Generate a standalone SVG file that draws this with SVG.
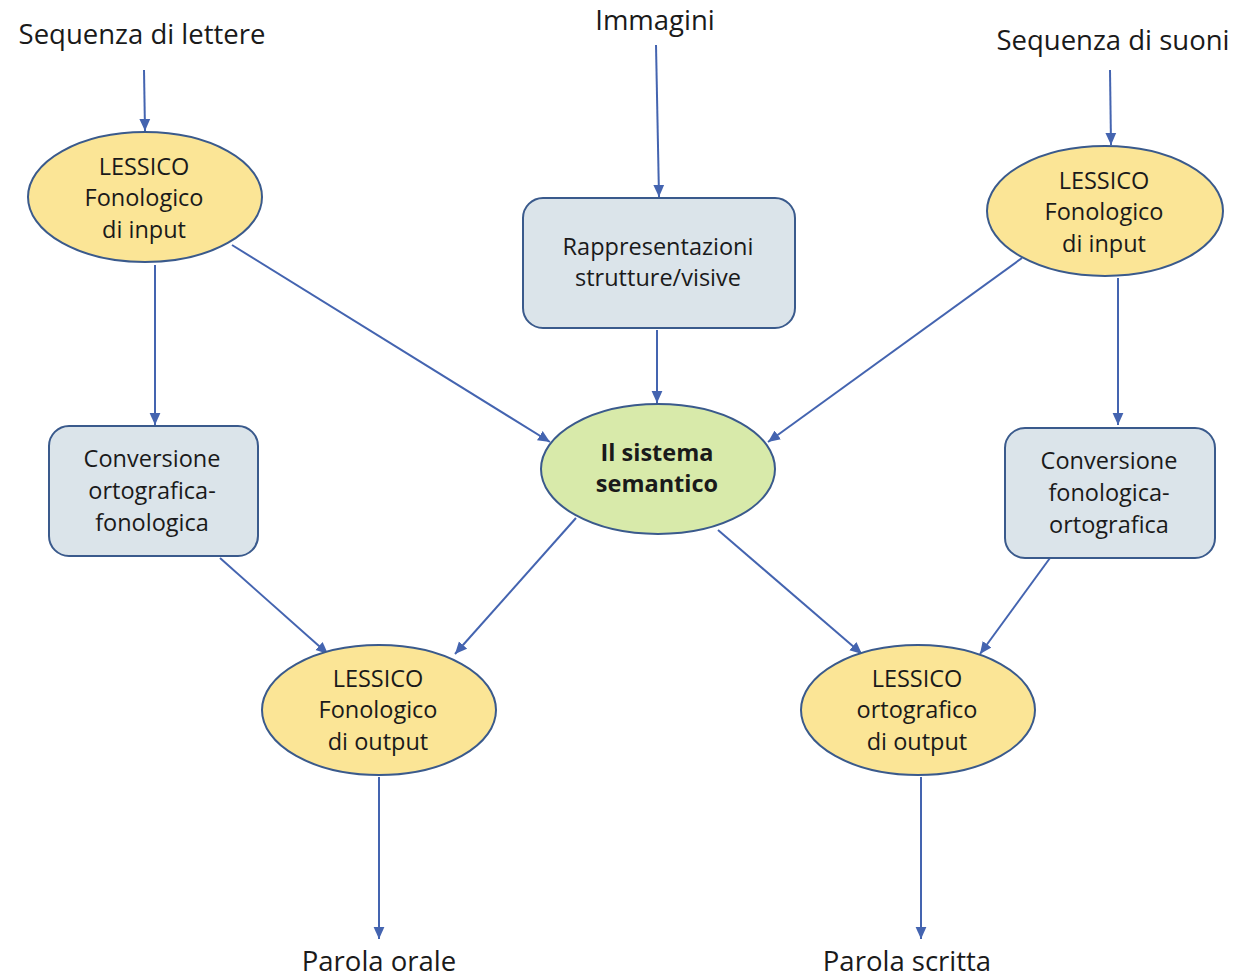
<svg xmlns="http://www.w3.org/2000/svg" width="1236" height="980" viewBox="0 0 1236 980">
<style>
text{font-family:"Open Sans","Liberation Sans",sans-serif;fill:#1a1a1a;text-anchor:middle}
.lbl{font-size:27.5px}
.nt{font-size:23.5px}
.b{font-weight:bold}
.yel{fill:#fbe596;stroke:#3a5a8c;stroke-width:2}
.grn{fill:#d8eaaa;stroke:#3a5a8c;stroke-width:2}
.box{fill:#dbe4ea;stroke:#3a5a8c;stroke-width:2}
.c{stroke:#4464b0;stroke-width:2;fill:none;marker-end:url(#ah)}
</style>
<defs>
<marker id="ah" viewBox="0 0 10 10" refX="10" refY="5" markerWidth="12" markerHeight="12" orient="auto" markerUnits="userSpaceOnUse">
<path d="M0,0.5 L10,5 L0,9.5 z" fill="#4464b0"/>
</marker>
</defs>
<rect width="1236" height="980" fill="#fff"/>
<text class="lbl" x="142" y="44">Sequenza di lettere</text>
<text class="lbl" x="655" y="30">Immagini</text>
<text class="lbl" x="1113" y="50">Sequenza di suoni</text>
<text class="lbl" x="379" y="971">Parola orale</text>
<text class="lbl" x="907" y="971">Parola scritta</text>
<g id="connectors">
<path class="c" d="M144,70 L145,131"/>
<path class="c" d="M656,45 L659,197"/>
<path class="c" d="M1110,70 L1111,145"/>
<path class="c" d="M155,265 L155,425"/>
<path class="c" d="M232,245 L550,442"/>
<path class="c" d="M657,330 L657,403"/>
<path class="c" d="M1022,258 L768,442"/>
<path class="c" d="M1118,278 L1118,425"/>
<path class="c" d="M220,558 L328,654"/>
<path class="c" d="M576,518 L455,654"/>
<path class="c" d="M718,530 L862,654"/>
<path class="c" d="M1050,558 L980,654"/>
<path class="c" d="M379,777 L379,939"/>
<path class="c" d="M921,777 L921,939"/>
</g>
<g id="lessico-input-left">
<ellipse class="yel" cx="145" cy="197" rx="117" ry="65"/>
<text class="nt" x="144" y="175">LESSICO</text>
<text class="nt" x="144" y="206">Fonologico</text>
<text class="nt" x="144" y="238">di input</text>
</g>
<g id="rappresentazioni">
<rect class="box" x="523" y="198" width="272" height="130" rx="20"/>
<text class="nt" x="658" y="255">Rappresentazioni</text>
<text class="nt" x="658" y="286">strutture/visive</text>
</g>
<g id="lessico-input-right">
<ellipse class="yel" cx="1105" cy="211" rx="118" ry="65"/>
<text class="nt" x="1104" y="189">LESSICO</text>
<text class="nt" x="1104" y="220">Fonologico</text>
<text class="nt" x="1104" y="252">di input</text>
</g>
<g id="sistema-semantico">
<ellipse class="grn" cx="658" cy="469" rx="117" ry="65"/>
<text class="nt b" x="657" y="461">Il sistema</text>
<text class="nt b" x="657" y="492">semantico</text>
</g>
<g id="conversione-left">
<rect class="box" x="49" y="426" width="209" height="130" rx="20"/>
<text class="nt" x="152" y="467">Conversione</text>
<text class="nt" x="152" y="499">ortografica-</text>
<text class="nt" x="152" y="531">fonologica</text>
</g>
<g id="conversione-right">
<rect class="box" x="1005" y="428" width="210" height="130" rx="20"/>
<text class="nt" x="1109" y="469">Conversione</text>
<text class="nt" x="1109" y="501">fonologica-</text>
<text class="nt" x="1109" y="533">ortografica</text>
</g>
<g id="lessico-output-fonologico">
<ellipse class="yel" cx="379" cy="710" rx="117" ry="65"/>
<text class="nt" x="378" y="687">LESSICO</text>
<text class="nt" x="378" y="718">Fonologico</text>
<text class="nt" x="378" y="750">di output</text>
</g>
<g id="lessico-output-ortografico">
<ellipse class="yel" cx="918" cy="710" rx="117" ry="65"/>
<text class="nt" x="917" y="687">LESSICO</text>
<text class="nt" x="917" y="718">ortografico</text>
<text class="nt" x="917" y="750">di output</text>
</g>
</svg>
